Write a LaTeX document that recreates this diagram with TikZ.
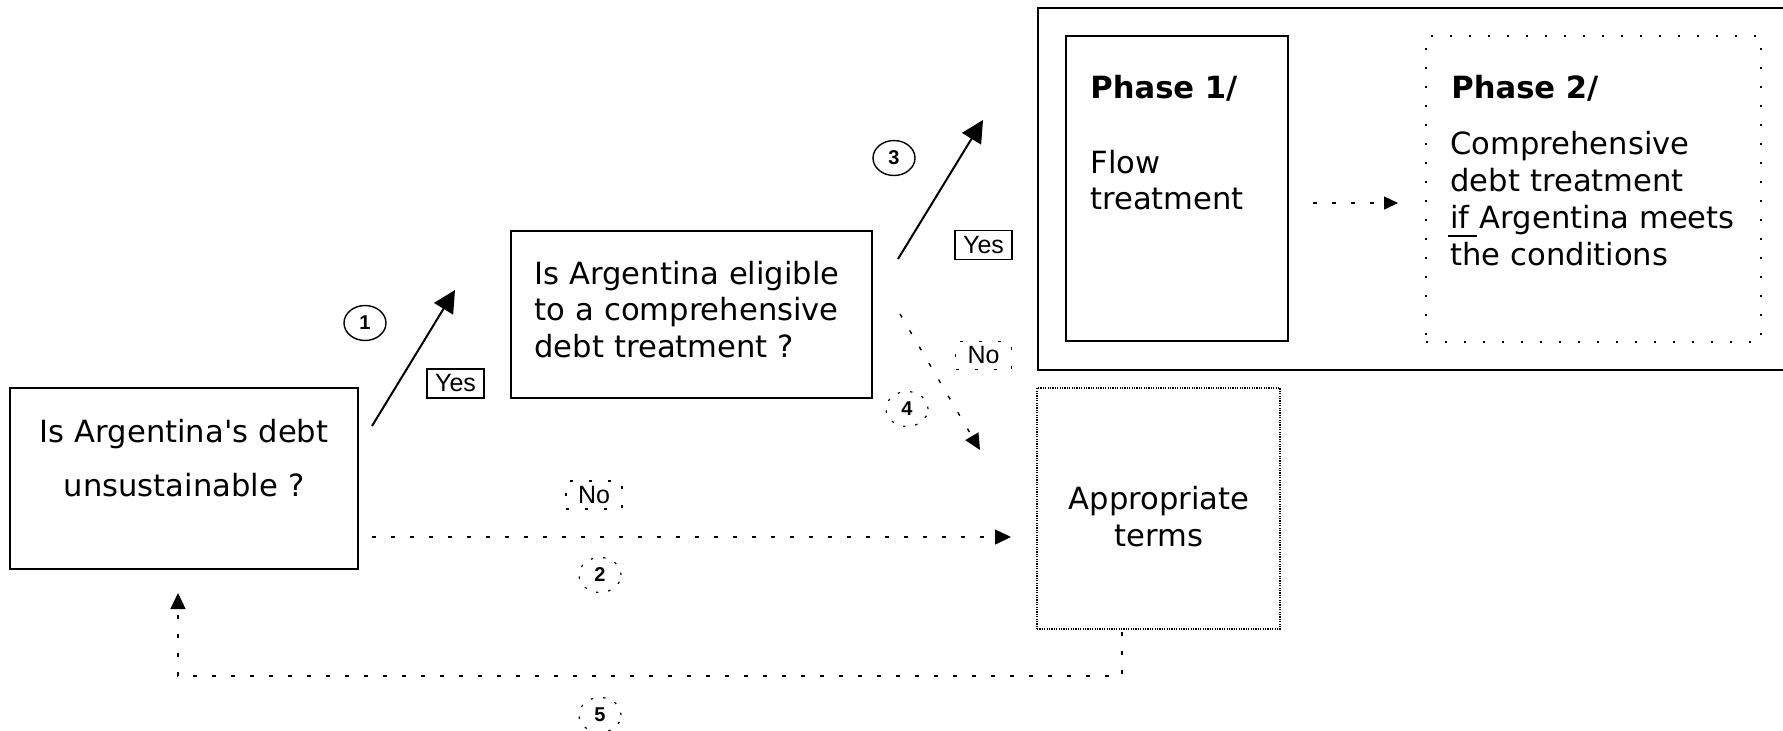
\documentclass[tikz,border=0pt]{standalone}
\usepackage{fontspec}
\setmainfont{DejaVu Sans}[Ligatures=TeXOff]
\newfontfamily\arialf{Liberation Sans}
\usetikzlibrary{arrows.meta,shapes.geometric}
\tikzset{
  solidbox/.style={draw, line width=1pt, inner sep=0pt, outer sep=0pt, anchor=north west},
  dotbox/.style={draw, line width=1pt, dash pattern=on 1.2pt off 8.3pt, inner sep=0pt, outer sep=0pt, anchor=north west},
  finebox/.style={draw, line width=1pt, dash pattern=on 0.6pt off 0.6pt, inner sep=0pt, outer sep=0pt, anchor=north west},
  maintext/.style={inner sep=0pt, font=\fontsize{15.3pt}{18.3pt}\selectfont},
  yeslab/.style={draw, line width=0.8pt, inner sep=0pt, minimum width=28.5pt, minimum height=14.5pt, font=\arialf\fontsize{12.5pt}{14pt}\selectfont},
  nolab/.style={draw, line width=0.8pt, dash pattern=on 1.5pt off 8pt, inner sep=0pt, minimum width=28pt, minimum height=14pt, font=\arialf\fontsize{12.5pt}{14pt}\selectfont},
  numc/.style={ellipse, draw, line width=0.7pt, inner sep=0pt, minimum width=21pt, minimum height=17.5pt, font=\arialf\bfseries\fontsize{10pt}{12pt}\selectfont},
  numd/.style={numc, line width=0.6pt, dash pattern=on 1.2pt off 5pt},
  solidarrow/.style={line width=1pt, -{Triangle[length=11pt,width=11pt]}},
  dotarrow/.style={line width=0.7pt, dash pattern=on 2pt off 7.5pt, -{Triangle[length=8pt,width=7.5pt]}},
  smallarrow/.style={line width=0.7pt, dash pattern=on 2pt off 7.5pt, -{Triangle[length=7pt,width=6.5pt]}},
}
\begin{document}
\begin{tikzpicture}[x=0.5pt,y=-0.5pt]
\useasboundingbox (0,0) rectangle (1783,730);

% outer frame (open at the right edge)
\draw[line width=1.2pt] (1783,8) -- (1038,8) -- (1038,370) -- (1783,370);

% boxes
\node[solidbox, minimum width=174pt, minimum height=90.5pt] (qA) at (10,388) {};
\node[solidbox, minimum width=180.5pt, minimum height=83.5pt] (qB) at (511,231) {};
\node[solidbox, minimum width=111pt, minimum height=152.5pt] (ph1) at (1066,36) {};
\node[dotbox, minimum width=167.5pt, minimum height=153pt] (ph2) at (1426,36) {};
\node[finebox, minimum width=121.5pt, minimum height=120.5pt] (app) at (1037,388) {};

% texts
\node[maintext, anchor=base, text width=170pt, align=center,
      font=\fontsize{15.3pt}{27pt}\selectfont] (tA) at (184,442)
  {Is Argentina's debt\\unsustainable ?};
\node[maintext, anchor=base west, text width=175pt, align=left] (tB) at (534,284)
  {Is Argentina eligible\\to a comprehensive\\debt treatment ?};
\node[maintext, anchor=base west, font=\bfseries\fontsize{15.3pt}{18.3pt}\selectfont] (t1h) at (1090,98) {Phase 1/};
\node[maintext, anchor=base west, text width=100pt, align=left, font=\fontsize{15.3pt}{18pt}\selectfont] (t1b) at (1090,173)
  {Flow\\treatment};
\node[maintext, anchor=base west, font=\bfseries\fontsize{15.3pt}{18.3pt}\selectfont] (t2h) at (1451,98) {Phase 2/};
\node[maintext, anchor=base west, text width=160pt, align=left, font=\fontsize{15.3pt}{18.5pt}\selectfont] (t2b) at (1450,154)
  {Comprehensive\\debt treatment\\\makebox[0pt][l]{\hspace{-1pt}\rule[-4.3pt]{14.5pt}{0.7pt}}if Argentina meets\\the conditions};
\node[maintext, anchor=base, text width=115pt, align=center, font=\fontsize{15.3pt}{18.5pt}\selectfont] (tapp) at (1159,509)
  {Appropriate\\terms};

% connector end points
\coordinate (a1s) at (372,426);
\coordinate (a1e) at (455,290);
\coordinate (a3s) at (898,259);
\coordinate (a3e) at (983,120);
\coordinate (a4s) at (900,314);
\coordinate (a4e) at (980,450);
\coordinate (a2s) at (372,537);
\coordinate (a2e) at (1011,537);
\coordinate (l5s) at (1122,632);
\coordinate (l5a) at (1122,676);
\coordinate (l5b) at (178,676);
\coordinate (l5e) at (178,593);
\coordinate (p12s) at (1313,203);
\coordinate (p12e) at (1398,203);

% connectors
\draw[solidarrow] (a1s) -- (a1e);
\draw[solidarrow] (a3s) -- (a3e);
\draw[dotarrow] (a4s) -- (a4e);
\draw[dotarrow] (a2s) -- (a2e);
\draw[dotarrow] (l5s) -- (l5a) -- (l5b) -- (l5e);
\draw[smallarrow] (p12s) -- (p12e);

% labels
\node[yeslab] (y1) at (455.5,383.5) {Yes};
\node[yeslab] (y2) at (983.5,245) {Yes};
\node[nolab] (n1) at (983.5,355.5) {No};
\node[nolab] (n2) at (594,495) {No};
\node[numc] (c1) at (365,323) {1};
\node[numc] (c3) at (894,158) {3};
\node[numd] (c4) at (907,409) {4};
\node[numd] (c2) at (600,575) {2};
\node[numd] (c5) at (600,715) {5};
\end{tikzpicture}
\end{document}
